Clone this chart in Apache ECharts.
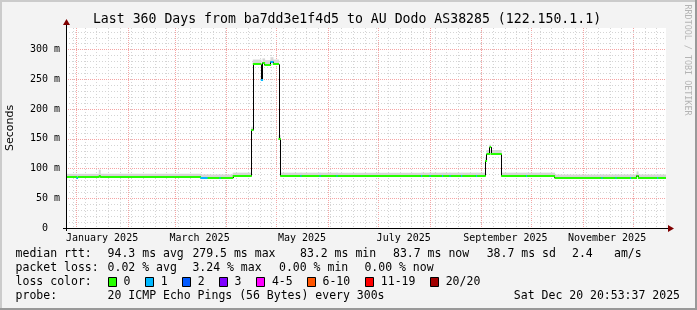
<!DOCTYPE html>
<html><head><meta charset="utf-8">
<script src="https://cdn.jsdelivr.net/npm/echarts@6/dist/echarts.min.js"></script>
<style>html,body{margin:0;padding:0;background:#f3f3f3}#c{width:697px;height:310px}</style>
</head><body><div id="c"></div>
<script>
// ---------------- data ----------------
const startTime = '2024-12-25 20:53:37';
const endTime   = '2025-12-20 20:53:37';

// piecewise-constant median RTT (ms), each value holds until next start
const segStart = [
 '2024-12-25 20:53','2025-01-01 03:00','2025-01-01 18:00','2025-01-14 13:00','2025-01-15 09:00',
 '2025-03-16 13:00','2025-03-20 20:00','2025-03-27 23:00','2025-03-28 14:00','2025-04-04 21:00',
 '2025-04-15 23:00','2025-04-16 23:00','2025-04-21 18:00','2025-04-22 18:00','2025-04-23 23:00',
 '2025-04-27 13:00','2025-04-28 23:00','2025-05-02 09:00','2025-05-03 09:00',
 '2025-05-15 13:00','2025-05-16 03:00','2025-05-27 00:00','2025-05-27 14:00','2025-06-06 04:00','2025-06-06 18:00',
 '2025-07-26 23:00','2025-07-27 13:00','2025-07-31 23:00','2025-08-01 13:00','2025-08-08 13:00','2025-08-09 03:00',
 '2025-08-12 23:00','2025-08-13 13:00','2025-08-19 23:00','2025-08-20 13:00','2025-08-28 23:00','2025-08-29 13:00',
 '2025-09-03 09:00','2025-09-04 04:00','2025-09-05 23:00','2025-09-06 14:00','2025-09-12 23:00',
 '2025-09-27 23:00','2025-09-28 13:00','2025-10-14 23:00',
 '2025-11-12 04:00','2025-11-12 18:00','2025-11-20 14:00','2025-11-21 04:00','2025-11-29 09:00','2025-11-29 23:00',
 '2025-12-03 04:00','2025-12-04 01:00','2025-12-15 14:00','2025-12-16 04:00'
];
const segMedian = [
 85.3, 84.5, 85.3, 87.5, 85.3,
 83.6, 84.0, 83.6, 84.0, 87.0,
 164, 275, 249, 278, 273.5,
 279.5, 275, 150, 87.5,
 87.5, 87.5, 87.5, 87.5, 87.5, 87.5,
 87.5, 87.5, 87.5, 87.5, 87.5, 87.5,
 87.5, 87.5, 87.5, 87.5, 87.5, 87.5,
 113, 124.5, 136, 124.5, 87.5,
 87.5, 87.5, 84.0,
 84.0, 84.0, 84.0, 84.0, 84.0, 84.0,
 88.0, 84.0, 84.0, 84.0
];
// number of lost pings (index into loss colour classes)
const segLoss = [
 0,1,0,0,0,
 1,0,1,0,0,
 0,0,1,0,0,
 1,0,0,0,
 1,0,1,0,1,0,
 1,0,1,0,1,0,
 1,0,1,0,1,0,
 0,0,0,0,0,
 1,0,0,
 1,0,1,0,1,0,
 0,0,1,0
];
// upper edge of the smoke (ms)
const segSmoke = [
 91, 90, 91, 98, 91,
 90, 90, 90, 90, 93,
 170, 283, 257, 285, 282,
 287, 283, 156, 93,
 93, 93, 93, 93, 93, 93,
 93, 93, 93, 93, 93, 93,
 93, 93, 93, 93, 93, 93,
 119, 131, 140, 131, 93,
 93, 93, 90,
 90, 90, 90, 90, 90, 90,
 95, 90, 90, 90
];

const monthStarts = ['2025-01-01','2025-02-01','2025-03-01','2025-04-01','2025-05-01','2025-06-01',
  '2025-07-01','2025-08-01','2025-09-01','2025-10-01','2025-11-01','2025-12-01'];
const monthLabels = ['January 2025','March 2025','May 2025','July 2025','September 2025','November 2025'];
const monthLabelAt = ['2025-01-16 12:00','2025-03-16 00:00','2025-05-16 12:00','2025-07-16 12:00','2025-09-15 12:00','2025-11-15 12:00'];
const firstWeek = '2024-12-30';
const yMax = 336;
const yLabelStep = 50, yMinorStep = 10, yLabelMax = 300;

const lossColors = ['#26ff00','#00b8ff','#0059ff','#7e00ff','#ff00ff','#ff5500','#ff0000','#a10000'];
const lossLabels = ['0','1','2','3','4-5','6-10','11-19','20/20'];

// ---------------- layout ----------------
const G = {left:66, right:31, top:28, bottom:82};
const W = 697, H = 310;
const px0 = G.left, px1 = W - G.right, py0 = H - G.bottom, py1 = G.top;
const MONO = '"DejaVu Sans Mono", monospace';

const ts = s => new Date(s.replace(' ', 'T')).getTime();
const segData = segStart.map((s, i) => [
  ts(s),
  i + 1 < segStart.length ? ts(segStart[i + 1]) : ts(endTime),
  segMedian[i], segSmoke[i], segLoss[i],
  i > 0 ? segMedian[i - 1] : segMedian[i]
]);

// grid lines
const gridLines = [];
const DAY = 86400000;
for (let t = ts(firstWeek + ' 00:00'); t < ts(endTime); t += 7 * DAY) gridLines.push([t, 0, 0]);
monthStarts.forEach(m => gridLines.push([ts(m + ' 00:00'), 0, 1]));
const hLines = [];
for (let v = yMinorStep; v < yMax; v += yMinorStep) hLines.push([0, v, v % yLabelStep === 0 ? 1 : 0]);

const crisp = v => Math.round(v) + 0.5;

const option = {
  backgroundColor: '#f3f3f3',
  animation: false,
  grid: {left: G.left, right: G.right, top: G.top, bottom: G.bottom, show: true,
         backgroundColor: '#ffffff', borderWidth: 0},
  xAxis: {type: 'time', min: ts(startTime), max: ts(endTime),
          axisLine: {show: false}, axisTick: {show: false}, axisLabel: {show: false}, splitLine: {show: false}},
  yAxis: {type: 'value', min: 0, max: yMax, interval: yMinorStep,
          axisLine: {show: false},
          axisTick: {show: false},
          splitLine: {show: false},
          axisLabel: {margin: 6, fontFamily: MONO, fontSize: 10, color: '#000',
            formatter: v => (v % yLabelStep === 0 && v <= yLabelMax) ? (v === 0 ? '0  ' : v + ' m') : ''}},
  series: [
    { // vertical grid
      type: 'custom', silent: true, z: 1, clip: true,
      data: gridLines,
      renderItem: (p, api) => {
        const a = api.coord([api.value(0), 0]);
        const x = crisp(a[0]);
        const major = api.value(2) === 1;
        return {type: 'line', shape: {x1: x, y1: py1, x2: x, y2: py0},
          style: {stroke: major ? '#f4a4a4' : '#d4d4d4', lineWidth: 1, lineDash: major ? [1, 1] : [1, 2]}};
      }
    },
    { // horizontal grid
      type: 'custom', silent: true, z: 1, clip: true,
      data: hLines,
      renderItem: (p, api) => {
        const a = api.coord([ts(startTime), api.value(1)]);
        const y = crisp(a[1]);
        const major = api.value(2) === 1;
        return {type: 'line', shape: {x1: px0, y1: y, x2: px1, y2: y},
          style: {stroke: major ? '#f4a4a4' : '#d4d4d4', lineWidth: 1, lineDash: major ? [1, 1] : [1, 2]}};
      }
    },
    { // smoke
      type: 'custom', silent: true, z: 2, clip: true,
      data: segData,
      renderItem: (p, api) => {
        const a = api.coord([api.value(0), api.value(3)]);
        const b = api.coord([api.value(1), api.value(2)]);
        return {type: 'rect', shape: {x: a[0], y: a[1], width: b[0] - a[0] + 0.6, height: b[1] - a[1]},
          style: {fill: '#d6d6d6'}};
      }
    },
    { // black step connectors
      type: 'custom', silent: true, z: 3, clip: true,
      data: segData,
      renderItem: (p, api) => {
        const a = api.coord([api.value(0), api.value(5)]);
        const b = api.coord([api.value(0), api.value(2)]);
        const x = crisp(a[0]);
        return {type: 'line', shape: {x1: x, y1: a[1], x2: x, y2: b[1]},
          style: {stroke: '#000000', lineWidth: 1}};
      }
    },
    { // median coloured by loss
      type: 'custom', silent: true, z: 4, clip: true,
      data: segData,
      renderItem: (p, api) => {
        const a = api.coord([api.value(0), api.value(2)]);
        const b = api.coord([api.value(1), api.value(2)]);
        return {type: 'rect', shape: {x: a[0], y: Math.round(a[1]) - 1, width: b[0] - a[0] + 0.6, height: 2},
          style: {fill: lossColors[api.value(4)]}};
      }
    },
    { // month labels
      type: 'custom', silent: true, z: 5, clip: false,
      data: monthLabelAt.map((d, i) => [ts(d), i]),
      renderItem: (p, api) => {
        const a = api.coord([api.value(0), 0]);
        return {type: 'text', x: a[0], y: py0 + 10,
          style: {text: monthLabels[api.value(1)], font: '10px ' + MONO, fill: '#000',
                  align: 'center', verticalAlign: 'middle'}};
      }
    }
  ],
  graphic: []
};

const gr = option.graphic;
// frame shading
gr.push({type: 'rect', shape: {x: 0, y: 0, width: W, height: 2}, style: {fill: '#cbcbcb'}, z: 100});
gr.push({type: 'rect', shape: {x: 0, y: 0, width: 2, height: H}, style: {fill: '#cbcbcb'}, z: 100});
gr.push({type: 'rect', shape: {x: W - 2, y: 0, width: 2, height: H}, style: {fill: '#999999'}, z: 101});
gr.push({type: 'rect', shape: {x: 0, y: H - 2, width: W, height: 2}, style: {fill: '#999999'}, z: 101});
// axes
gr.push({type: 'line', shape: {x1: px0 - 3, y1: py0 + 0.5, x2: px1 + 3, y2: py0 + 0.5}, style: {stroke: '#000', lineWidth: 1}, z: 50});
gr.push({type: 'line', shape: {x1: px0 + 0.5, y1: py0 + 3, x2: px0 + 0.5, y2: py1 - 4}, style: {stroke: '#000', lineWidth: 1}, z: 50});
gr.push({type: 'polygon', shape: {points: [[px1 + 2, py0 - 3], [px1 + 8, py0 + 0.5], [px1 + 2, py0 + 4]]}, style: {fill: '#7f0000'}, z: 51});
gr.push({type: 'polygon', shape: {points: [[px0 - 3, py1 - 3], [px0 + 0.5, py1 - 9], [px0 + 4, py1 - 3]]}, style: {fill: '#7f0000'}, z: 51});
// title
gr.push({type: 'text', x: 347, y: 19.5, style: {text: 'Last 360 Days from ba7dd3e1f4d5 to AU Dodo AS38285 (122.150.1.1)',
  font: '13.2px ' + MONO, fill: '#000', align: 'center', verticalAlign: 'middle'}, z: 60});
// y axis title
gr.push({type: 'text', x: 10, y: 128, rotation: Math.PI / 2, style: {text: 'Seconds',
  font: '11px "DejaVu Sans", sans-serif', fill: '#000', align: 'center', verticalAlign: 'middle'}, z: 60});
// watermark
gr.push({type: 'text', x: 687, y: 60, rotation: -Math.PI / 2, style: {text: 'RRDTOOL / TOBI OETIKER',
  font: '8.4px ' + MONO, fill: '#b4b4b4', align: 'center', verticalAlign: 'middle'}, z: 60});

// legend
const LF = '11.5px ' + MONO;
const legendItems = [
  [254.3, [[15.6, 'median rtt:'], [107.6, '94.3 ms avg'], [192.4, '279.5 ms max'], [300, '83.2 ms min'],
           [393, '83.7 ms now'], [486.7, '38.7 ms sd'], [572, '2.4'], [614, 'am/s']]],
  [268.3, [[15.6, 'packet loss:'], [107.6, '0.02 % avg'], [192.4, '3.24 % max'], [279, '0.00 % min'], [364.4, '0.00 % now']]],
  [282.3, [[15.6, 'loss color:']]],
  [296, [[15.6, 'probe:'], [107.6, '20 ICMP Echo Pings (56 Bytes) every 300s']]]
];
legendItems.forEach(([y, items]) => items.forEach(([x, t]) => gr.push({type: 'text', x: x, y: y,
  style: {text: t, font: LF, fill: '#000', align: 'left', verticalAlign: 'middle'}, z: 60})));
gr.push({type: 'text', x: 680, y: 296, style: {text: 'Sat Dec 20 20:53:37 2025', font: LF, fill: '#000',
  align: 'right', verticalAlign: 'middle'}, z: 60});
const boxX = [108, 145.3, 182.2, 219, 256.4, 307, 365.3, 430.2];
lossLabels.forEach((l, i) => {
  gr.push({type: 'rect', shape: {x: Math.round(boxX[i]) + 0.5, y: 277.5, width: 8, height: 9},
    style: {fill: lossColors[i], stroke: '#000', lineWidth: 1}, z: 60});
  gr.push({type: 'text', x: boxX[i] + 15.5, y: 282.3, style: {text: l, font: LF, fill: '#000',
    align: 'left', verticalAlign: 'middle'}, z: 60});
});

const chart = echarts.init(document.getElementById('c'), null, {renderer: 'canvas', width: W, height: H});
chart.setOption(option);
</script></body></html>
